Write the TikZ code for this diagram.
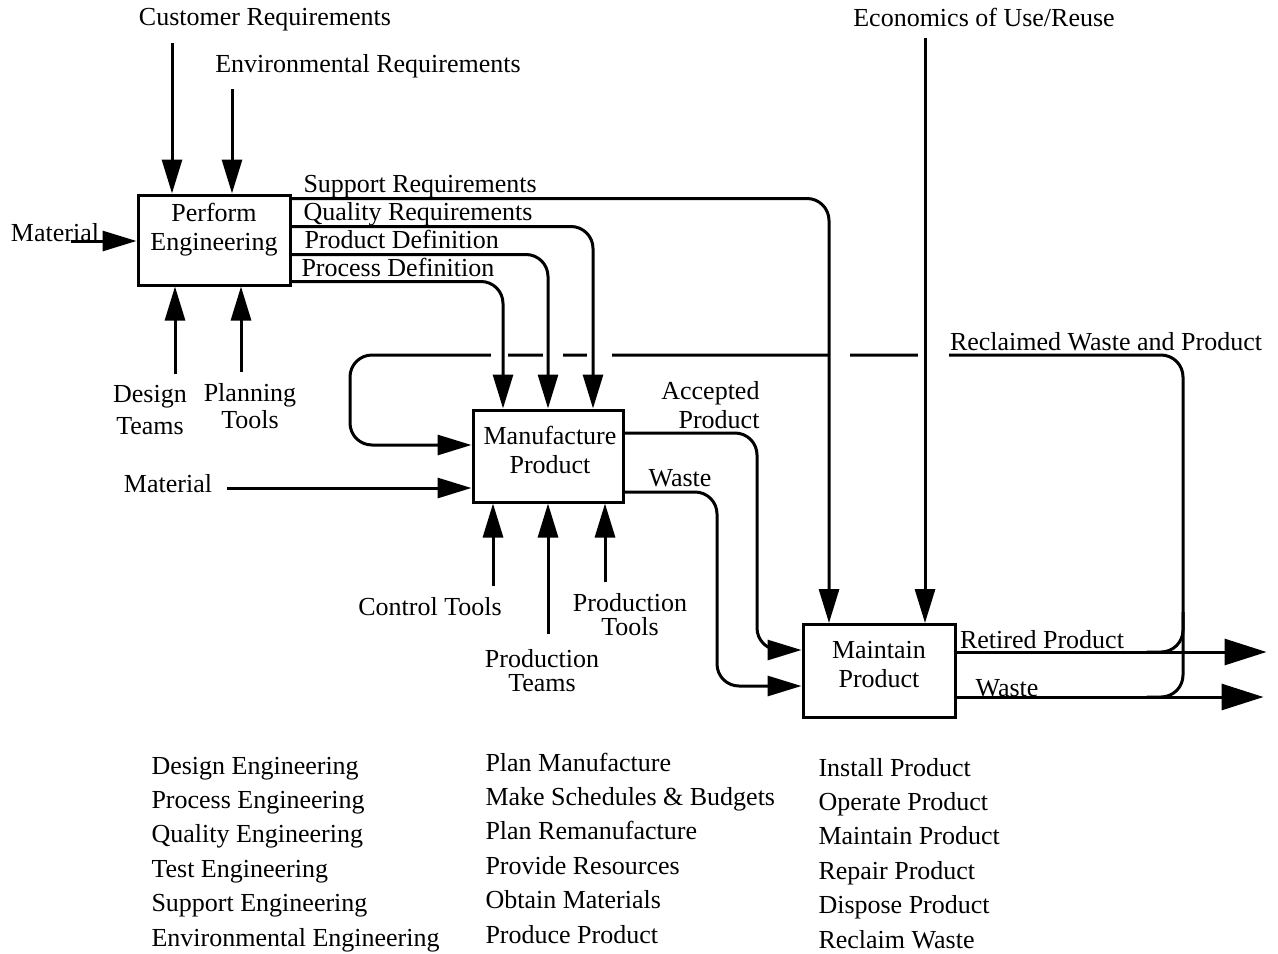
\documentclass[tikz,border=0pt]{standalone}
\usepackage{fontspec}
\setmainfont{Liberation Serif}
\usetikzlibrary{arrows.meta,calc}
\newcommand{\fsz}[1]{\fontsize{13pt}{#1}\selectfont}
\begin{document}
\begin{tikzpicture}[x=0.5pt,y=-0.5pt,line width=1.5pt,
  every node/.style={font=\fsz{14.5pt}, inner sep=1pt},
  box/.style={draw, line width=1.5pt, inner sep=0pt},
  boxtext/.style={align=center},
  arr/.style={-{Triangle[length=17pt,width=10pt]}},
  bigarr/.style={-{Triangle[length=21pt,width=13pt]}},
  rc/.style={rounded corners=11pt}]
\fill[white] (0,0) rectangle (1278,953);
\useasboundingbox (0,0) rectangle (1278,953);

% boxes
\node[box, minimum width=76pt, minimum height=45pt] (pe) at (214,240) {};
\node[boxtext] (peT) at ($(pe.center)+(0,-10)$) {Perform\\Engineering};
\node[box, minimum width=75pt, minimum height=46pt] (mf) at (548,456) {};
\node[boxtext] (mfT) at ($(mf.center)+(2,-6)$) {Manufacture\\Product};
\node[box, minimum width=76pt, minimum height=46.5pt] (mt) at (879,671) {};
\node[boxtext] (mtT) at ($(mt.center)+(0,-6)$) {Maintain\\Product};

% labels
\node (cust) at (265,20) {Customer Requirements};
\node (env) at (368,66) {Environmental Requirements};
\node (mat1) at (55,233) {Material};
\node[align=center, font=\fsz{16pt}] (dt) at (150,410) {Design\\Teams};
\node[align=center, font=\fsz{13.5pt}] (plt) at (250,406) {Planning\\Tools};
\node[anchor=base west] (sr) at (300,192) {Support Requirements};
\node[anchor=base west] (qr) at (300,220) {Quality Requirements};
\node[anchor=base west] (pd) at (301,248) {Product Definition};
\node[anchor=base west] (prd) at (298,276) {Process Definition};
\node (mat2) at (168,484) {Material};
\node (ct) at (430,607) {Control Tools};
\node[align=center, font=\fsz{12pt}] (pt) at (542,671) {Production\\Teams};
\node[align=center, font=\fsz{12pt}] (ptl) at (630,615) {Production\\Tools};
\node[align=right, anchor=east] (acc) at (763,405) {Accepted\\Product};
\node (w1) at (680,478) {Waste};
\node (eco) at (984,17) {Economics of Use/Reuse};
\node (rec) at (1106,342) {Reclaimed Waste and Product};
\node (ret) at (1042,640) {Retired Product};
\node (w2) at (1007,688) {Waste};

% coordinates for connector ends
\coordinate (custIn) at ($(pe.north)+(-42,0)$);
\coordinate (envIn) at ($(pe.north)+(18,0)$);
\coordinate (dtIn) at ($(pe.south)+(-39,0)$);
\coordinate (plIn) at ($(pe.south)+(27,0)$);
\coordinate (ctIn) at ($(mf.south)+(-55,0)$);
\coordinate (ptIn) at (mf.south);
\coordinate (ptlIn) at ($(mf.south)+(57,0)$);
\coordinate (ecoIn) at ($(mt.north)+(46,0)$);
\coordinate (supIn) at ($(mt.north)+(-50,0)$);
\coordinate (accT) at ($(mt.west)+(0,-21)$);
\coordinate (accX) at (757,0);
\coordinate (wT) at ($(mt.west)+(0,15)$);
\coordinate (wX) at (717,0);
\coordinate (loopX) at (1183,0);
\coordinate (loopY) at (0,355);
\coordinate (loopL) at (350,0);
\coordinate (loopIn) at ($(mf.west)+(0,-11)$);
\coordinate (retS) at ($(mt.east)+(190,-19)$);
\coordinate (wasS) at ($(mt.east)+(190,26)$);
\coordinate (retEnd) at ($(mt.east)+(310,-19)$);
\coordinate (wasEnd) at ($(mt.east)+(307,26)$);

% reclaim loop (drawn first, broken where verticals cross)
\draw[arr,rc] (wasS) -- (loopX |- wasS) -- (loopX |- loopY) -- (loopL |- loopY) -- (loopL |- loopIn) -- (loopIn);
\draw[rc] (retS) -- (loopX |- retS) -- ($(loopX |- retS)+(0,-40)$);
\foreach \a/\b in {491/508, 543/563, 587/612, 829/850, 918/949}
  \fill[white] (\a,347) rectangle (\b,363);

% inputs to Perform Engineering
\draw[arr] ([yshift=-4pt]custIn |- cust.south) -- (custIn);
\draw[arr] ([yshift=-4pt]envIn |- env.south) -- (envIn);
\draw[arr] ($(pe.west)+(-66,1)$) -- ($(pe.west)+(0,1)$);
\draw[arr] ([yshift=4pt]dtIn |- dt.north) -- (dtIn);
\draw[arr] ([yshift=4pt]plIn |- plt.north) -- (plIn);

% outputs of Perform Engineering
\draw[arr,rc] ($(pe.north east)+(0,5)$) -| (supIn);
\draw[arr,rc] ($(pe.north east)+(0,33)$) -| ($(mf.north)+(45,0)$);
\draw[arr,rc] ($(pe.north east)+(0,61)$) -| (mf.north);
\draw[arr,rc] ($(pe.north east)+(0,88)$) -| ($(mf.north)+(-45,0)$);

% Manufacture inputs
\draw[arr] ($(mf.west)+(-245,32)$) -- ($(mf.west)+(0,32)$);
\draw[arr] ([yshift=4pt]ctIn |- ct.north) -- (ctIn);
\draw[arr] ([yshift=6pt]ptIn |- pt.north) -- (ptIn);
\draw[arr] ([yshift=4pt]ptlIn |- ptl.north) -- (ptlIn);

% Manufacture outputs
\draw[arr,rc] ($(mf.east)+(0,-23)$) -| (accX |- accT) -- (accT);
\draw[arr,rc] ($(mf.east)+(0,36)$) -| (wX |- wT) -- (wT);

% Maintain
\draw[arr] ([yshift=-4pt]ecoIn |- eco.south) -- (ecoIn);
\draw[bigarr] ($(mt.east)+(0,-19)$) -- (retEnd);
\draw[bigarr] ($(mt.east)+(0,26)$) -- (wasEnd);

% activity lists
\foreach \t [count=\i from 0] in {Design Engineering, Process Engineering, Quality Engineering, Test Engineering, Support Engineering, Environmental Engineering}
  \node[anchor=base west] (la\i) at (148,{774+34.4*\i}) {\t};
\foreach \t [count=\i from 0] in {Plan Manufacture, Make Schedules \& Budgets, Plan Remanufacture, Provide Resources, Obtain Materials, Produce Product}
  \node[anchor=base west] (lb\i) at (482,{771+34.4*\i}) {\t};
\foreach \t [count=\i from 0] in {Install Product, Operate Product, Maintain Product, Repair Product, Dispose Product, Reclaim Waste}
  \node[anchor=base west] (lc\i) at (815,{776+34.4*\i}) {\t};
\end{tikzpicture}
\end{document}
